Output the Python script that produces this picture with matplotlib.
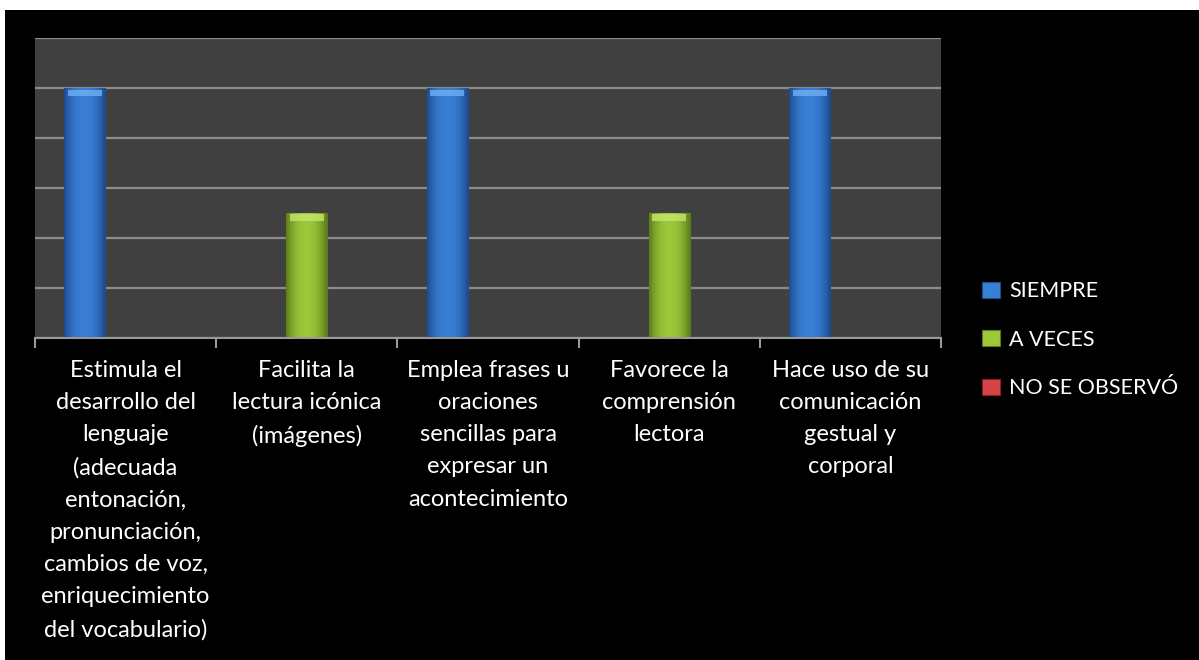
import matplotlib
matplotlib.use("Agg")
import matplotlib.pyplot as plt
import numpy as np
from matplotlib.patches import Patch, Rectangle

plt.rcParams['font.family'] = ['Lato', 'DejaVu Sans']

# categories and values for the three answer types
categorias = [
    "Estimula el\ndesarrollo del\nlenguaje\n(adecuada\nentonación,\npronunciación,\ncambios de voz,\nenriquecimiento\ndel vocabulario)",
    "Facilita la\nlectura icónica\n(imágenes)",
    "Emplea frases u\noraciones\nsencillas para\nexpresar un\nacontecimiento",
    "Favorece la\ncomprensión\nlectora",
    "Hace uso de su\ncomunicación\ngestual y\ncorporal",
]
siempre = [5, 0, 5, 0, 5]
a_veces = [0, 2.5, 0, 2.5, 0]
no_se_observo = [0, 0, 0, 0, 0]

series = ["SIEMPRE", "A VECES", "NO SE OBSERVÓ"]
colores = ["#3a7fd6", "#9dc83a", "#d64545"]
claros = ["#6fb0f2", "#c4e66a", "#f08080"]
oscuros = ["#1d4c8f", "#5e7c1c", "#8a2020"]

fig = plt.figure(figsize=(11.99, 6.6), dpi=100)
fig.patch.set_facecolor("white")
# black panel behind the chart
fig.add_artist(Rectangle((5 / 1199, 0), 1, 1 - 9.5 / 660, transform=fig.transFigure,
                         facecolor="black", edgecolor="none", zorder=0))

ax = fig.add_axes([35 / 1199, 1 - 337.5 / 660, (941 - 35) / 1199, (337.5 - 38) / 660])
ax.set_facecolor("#404040")

x = np.arange(len(categorias))
ancho = 0.225
datos = [siempre, a_veces, no_se_observo]


def pintar_barra(rect, claro, base, oscuro):
    # horizontal shading: darker sides, lighter middle
    x0, y0 = rect.get_x(), rect.get_y()
    w, h = rect.get_width(), rect.get_height()
    if h <= 0:
        return
    grad = np.linspace(-1, 1, 64)
    t = 1 - np.abs(grad) ** 2.2
    c0 = np.array(matplotlib.colors.to_rgb(oscuro))
    c1 = np.array(matplotlib.colors.to_rgb(base))
    img = c0[None, :] + (c1 - c0)[None, :] * t[:, None]
    im = ax.imshow(img[None, :, :], extent=[x0, x0 + w, y0, y0 + h], aspect="auto",
                   zorder=3, interpolation="bilinear")
    im.set_clip_path(rect)
    # lighter cap on top
    cap = min(0.16, h)
    ax.add_patch(Rectangle((x0 + w * 0.08, y0 + h - cap), w * 0.84, cap * 0.8,
                           facecolor=claro, edgecolor="none", alpha=0.8, zorder=4))


for i, (vals, col, cl, osc) in enumerate(zip(datos, colores, claros, oscuros)):
    barras = ax.bar(x + (i - 1) * ancho, vals, ancho, color=col, edgecolor=osc,
                    linewidth=0.8, zorder=2)
    for r in barras:
        pintar_barra(r, cl, col, osc)

ax.set_xlim(-0.5, len(categorias) - 0.5)
ax.set_ylim(0, 6)
ax.set_yticks(np.arange(0, 7, 1))
ax.set_yticklabels([])
ax.tick_params(axis="y", length=0)
ax.yaxis.grid(True, color="#8c8c8c", linewidth=1.6)
ax.set_axisbelow(True)

for lado in ["top", "right", "left"]:
    ax.spines[lado].set_visible(False)
ax.spines["bottom"].set_color("#9a9a9a")
ax.spines["bottom"].set_linewidth(1.5)

ax.set_xticks(x)
ax.set_xticklabels(categorias, color="white", fontsize=17, linespacing=1.66)
ax.tick_params(axis="x", length=0, pad=16)
ax.set_xticks(np.arange(-0.5, len(categorias), 1), minor=True)
ax.tick_params(axis="x", which="minor", length=7, width=1.5, color="#9a9a9a")

handles = [Patch(facecolor=c, edgecolor=o, linewidth=0.8) for c, o in zip(colores, oscuros)]
leg = fig.legend(handles, series, loc="upper left", bbox_to_anchor=(963 / 1199, 1 - 262 / 660),
                 frameon=False, fontsize=15.5, labelcolor="white", handlelength=0.8,
                 handleheight=0.75, handletextpad=0.45, labelspacing=1.32)

fig.savefig("out.png", dpi=100, facecolor=fig.get_facecolor())
